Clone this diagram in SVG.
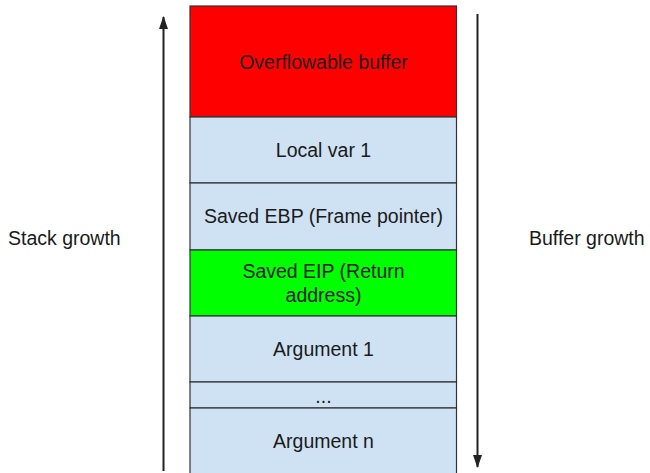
<svg xmlns="http://www.w3.org/2000/svg" width="650" height="473" viewBox="0 0 650 473">
  <style>
    .cell { stroke: #333; stroke-width: 1.2; }
    .mem { fill: #cfe2f3; }
    .lbl { font-family: "Liberation Sans", Arial, sans-serif; font-size: 19.5px; fill: #1a1a1a; text-anchor: middle; }
    .side { font-family: "Liberation Sans", Arial, sans-serif; font-size: 19.5px; fill: #1a1a1a; }
    .arrow { stroke: #222; stroke-width: 2; fill: none; }
  </style>
  <defs>
    <marker id="head" viewBox="0 0 13 9" refX="12" refY="4.5" markerWidth="6.5" markerHeight="4.5" orient="auto" markerUnits="strokeWidth">
      <path d="M0,0 L13,4.5 L0,9 z" fill="#222"/>
    </marker>
  </defs>
  <rect width="650" height="473" fill="#fff"/>

  <g id="buffer">
    <rect class="cell" x="190" y="6" width="266.5" height="111" fill="#ff0000"/>
    <text class="lbl" x="323.5" y="69">Overflowable buffer</text>
  </g>
  <g id="localvar">
    <rect class="cell mem" x="190" y="117" width="266.5" height="66"/>
    <text class="lbl" x="323.5" y="157">Local var 1</text>
  </g>
  <g id="ebp">
    <rect class="cell mem" x="190" y="183" width="266.5" height="67"/>
    <text class="lbl" x="323.5" y="223">Saved EBP (Frame pointer)</text>
  </g>
  <g id="eip">
    <rect class="cell" x="190" y="250" width="266.5" height="66" fill="#00ff00"/>
    <text class="lbl" x="323.5" y="278">Saved EIP (Return</text>
    <text class="lbl" x="323.5" y="302">address)</text>
  </g>
  <g id="arg1">
    <rect class="cell mem" x="190" y="316" width="266.5" height="66"/>
    <text class="lbl" x="323.5" y="356">Argument 1</text>
  </g>
  <g id="dots">
    <rect class="cell mem" x="190" y="382" width="266.5" height="26"/>
    <text class="lbl" x="323.5" y="403">...</text>
  </g>
  <g id="argn">
    <rect class="cell mem" x="190" y="408" width="266.5" height="70"/>
    <text class="lbl" x="323.5" y="448">Argument n</text>
  </g>

  <g id="connectors">
    <line class="arrow" x1="163.5" y1="471" x2="163.5" y2="17" marker-end="url(#head)"/>
    <line class="arrow" x1="477.5" y1="14" x2="477.5" y2="467" marker-end="url(#head)"/>
  </g>

  <g id="stack-growth">
    <text class="side" x="8" y="245">Stack growth</text>
  </g>
  <g id="buffer-growth">
    <text class="side" x="529" y="245">Buffer growth</text>
  </g>
</svg>
